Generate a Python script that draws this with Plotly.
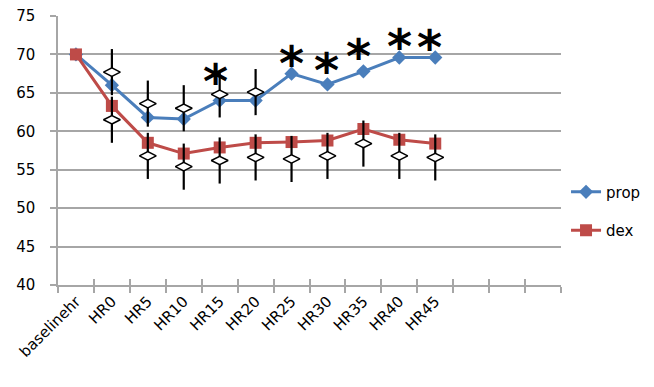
import plotly.graph_objects as go

categories = ["baselinehr", "HR0", "HR5", "HR10", "HR15", "HR20", "HR25", "HR30", "HR35", "HR40", "HR45"]
empty_slots = [" ", "  ", "   "]
prop = [70.0, 66.0, 61.8, 61.6, 64.0, 64.0, 67.5, 66.1, 67.8, 69.6, 69.6]
dex = [70.0, 63.3, 58.5, 57.1, 57.9, 58.5, 58.6, 58.8, 60.3, 58.9, 58.4]

prop_glyph_cats = ["HR0", "HR5", "HR10", "HR15", "HR20"]
prop_glyph = [67.7, 63.6, 63.0, 64.8, 65.1]
dex_glyph_cats = ["HR0", "HR5", "HR10", "HR15", "HR20", "HR25", "HR30", "HR35", "HR40", "HR45"]
dex_glyph = [61.5, 56.8, 55.4, 56.2, 56.6, 56.4, 56.8, 58.4, 56.8, 56.6]
glyph_half = 3.0

star_cats = ["HR15", "HR25", "HR30", "HR35", "HR40", "HR45"]
star_y = [67.3, 69.7, 68.8, 70.6, 71.9, 71.8]
star_xshift = [-4, 0, -1, -5, 0, -6]

BLUE = "#4A7EBB"
RED = "#BE4B48"
GRID = "#A6A6A6"
FONT = "DejaVu Sans"
all_cats = categories + empty_slots

fig = go.Figure()
fig.add_trace(go.Scatter(x=categories, y=prop, name="prop", mode="lines+markers",
                         line=dict(color=BLUE, width=3),
                         marker=dict(symbol="diamond", size=11, color=BLUE),
                         legendgroup="a"))
fig.add_trace(go.Scatter(x=categories, y=dex, name="dex", mode="lines+markers",
                         line=dict(color=RED, width=3),
                         marker=dict(symbol="square", size=12, color=RED),
                         legendgroup="b"))
for cats, vals in ((prop_glyph_cats, prop_glyph), (dex_glyph_cats, dex_glyph)):
    fig.add_trace(go.Scatter(x=cats, y=vals, mode="markers", showlegend=False,
                             marker=dict(symbol="diamond-wide", size=12, color="white",
                                         line=dict(color="black", width=1.5)),
                             error_y=dict(type="constant", value=glyph_half, color="black",
                                          thickness=2.2, width=0)))
# helper trace for the inner half of the crossing x ticks
fig.add_trace(go.Scatter(x=categories, y=prop, xaxis="x2", mode="markers",
                         marker=dict(opacity=0), showlegend=False, hoverinfo="skip"))

for c, v, dx in zip(star_cats, star_y, star_xshift):
    fig.add_annotation(x=c, y=v, text="<b>*</b>", showarrow=False,
                       font=dict(family=FONT, size=48, color="black"),
                       xanchor="center", yanchor="middle", yshift=-6, xshift=dx)

# page body has an 8px default margin, so the figure is sized to fit inside the window
fig.update_layout(
    width=646, height=379,
    margin=dict(l=50, r=93, t=8, b=102, autoexpand=False),
    paper_bgcolor="white", plot_bgcolor="white",
    font=dict(family=FONT, size=15, color="black"),
    legend=dict(x=1.01, y=0.275, xanchor="left", yanchor="middle",
                tracegroupgap=16, font=dict(size=15, color="black"),
                bgcolor="rgba(0,0,0,0)"),
    showlegend=True,
    xaxis2=dict(overlaying="x", type="category", categoryorder="array", categoryarray=all_cats,
                range=[-0.5, len(all_cats) - 0.5], tickson="boundaries", ticks="inside",
                ticklen=6, tickcolor=GRID, tickwidth=1.5, showticklabels=False,
                showgrid=False, zeroline=False, showline=False, side="bottom",
                anchor="y", automargin=False),
)
fig.layout.xaxis.update(type="category", categoryorder="array", categoryarray=all_cats,
                        range=[-0.5, len(all_cats) - 0.5],
                        tickson="boundaries", ticks="outside", ticklen=6, tickcolor=GRID, tickwidth=1.5,
                        tickangle=-45, showline=True, linecolor=GRID, linewidth=1.5,
                        showgrid=False, zeroline=False, tickfont=dict(size=15), automargin=False,
                        ticklabeloverflow="allow")
fig.update_yaxes(range=[40, 75], dtick=5, tick0=40, ticks="outside", ticklen=6,
                 tickcolor=GRID, tickwidth=1.5, showline=True, linecolor=GRID, linewidth=1.5,
                 showgrid=True, gridcolor=GRID, gridwidth=1.5, zeroline=False,
                 tickfont=dict(size=15), ticklabelstandoff=12, automargin=False,
                 ticklabeloverflow="allow")

fig.write_html("out.html")
